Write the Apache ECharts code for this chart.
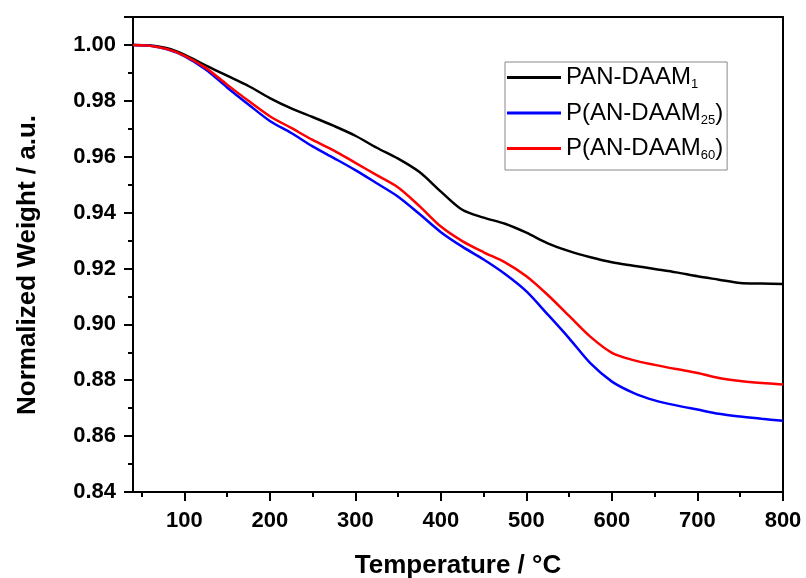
<!DOCTYPE html>
<html>
<head>
<meta charset="utf-8">
<script src="https://cdn.jsdelivr.net/npm/echarts@6/dist/echarts.min.js"></script>
<style>
  html, body { margin: 0; padding: 0; background: #fff; }
  #chart { width: 806px; height: 578px; }
</style>
</head>
<body>
<div id="chart"></div>
<script>
// temperature (°C)
const temps = [40, 60, 80, 100, 125, 150, 175, 200, 225, 250, 275, 300, 325, 350, 375, 400,
  425, 450, 475, 500, 525, 550, 575, 600, 625, 650, 675, 700, 725, 750, 775, 800];
// normalized weight
const pan1 = [1.000, 0.9998, 0.9988, 0.9965, 0.9927, 0.9890, 0.9853, 0.9810, 0.9773, 0.9742,
  0.9710, 0.9675, 0.9632, 0.9593, 0.9545, 0.9475, 0.9410, 0.9382, 0.9360, 0.9328, 0.9290,
  0.9262, 0.9240, 0.9222, 0.9210, 0.9198, 0.9186, 0.9172, 0.9160, 0.9148, 0.9146, 0.9144];
const pan25 = [1.000, 0.9997, 0.9984, 0.9960, 0.9912, 0.9848, 0.9787, 0.9728, 0.9685, 0.9637,
  0.9595, 0.9552, 0.9505, 0.9457, 0.9395, 0.9330, 0.9278, 0.9232, 0.9180, 0.9118, 0.9035,
  0.8950, 0.8860, 0.8795, 0.8755, 0.8728, 0.8710, 0.8695, 0.8680, 0.8670, 0.8662, 0.8655];
const pan60 = [1.000, 0.9997, 0.9985, 0.9962, 0.9918, 0.9858, 0.9800, 0.9745, 0.9703, 0.9660,
  0.9622, 0.9578, 0.9534, 0.9490, 0.9423, 0.9350, 0.9298, 0.9258, 0.9222, 0.9172, 0.9105,
  0.9030, 0.8955, 0.8898, 0.8872, 0.8855, 0.8840, 0.8826, 0.8808, 0.8797, 0.8790, 0.8785];

const xMajor = [100, 200, 300, 400, 500, 600, 700, 800];
const xMinor = [50, 150, 250, 350, 450, 550, 650, 750];

const names = ['PAN-DAAM1', 'P(AN-DAAM25)', 'P(AN-DAAM60)'];
const legendRich = {
  'PAN-DAAM1': '{n|PAN-DAAM}{s|1}',
  'P(AN-DAAM25)': '{n|P(AN-DAAM}{s|25}{n|)}',
  'P(AN-DAAM60)': '{n|P(AN-DAAM}{s|60}{n|)}'
};

const font = '"Liberation Sans", Arial, sans-serif';
const pair = (ys) => temps.map((t, i) => [t, ys[i]]);

const chart = echarts.init(document.getElementById('chart'));
chart.setOption({
  animation: false,
  grid: { left: 133, right: 23, top: 17, bottom: 86 },
  legend: {
    orient: 'vertical',
    left: 505,
    top: 62,
    padding: [2, 4, 8, 2],
    itemGap: 8.5,
    itemWidth: 54,
    itemHeight: 3,
    icon: 'rect',
    borderColor: '#888',
    borderWidth: 1,
    data: names,
    formatter: (n) => legendRich[n],
    textStyle: {
      fontFamily: font,
      rich: {
        n: { fontSize: 24, fontFamily: font, color: '#000', lineHeight: 28 },
        s: { fontSize: 13, fontFamily: font, color: '#000', padding: [14, 0, 0, 0], lineHeight: 28 }
      }
    }
  },
  xAxis: [{
    type: 'value', min: 40, max: 800,
    axisLine: { lineStyle: { color: '#000', width: 2 } },
    axisTick: { show: true, customValues: xMajor, length: 9, lineStyle: { color: '#000', width: 2 } },
    axisLabel: { customValues: xMajor, color: '#000', fontSize: 22, fontWeight: 'bold', fontFamily: font, margin: 18 },
    splitLine: { show: false }
  }, {
    type: 'value', min: 40, max: 800, position: 'bottom', gridIndex: 0,
    axisLine: { show: false },
    axisTick: { show: true, customValues: xMinor, length: 5, lineStyle: { color: '#000', width: 2 } },
    axisLabel: { show: false },
    splitLine: { show: false }
  }, {
    type: 'value', min: 40, max: 800, position: 'top',
    axisLine: { show: true, onZero: false, lineStyle: { color: '#000', width: 2 } },
    axisTick: { show: false }, axisLabel: { show: false }, splitLine: { show: false }
  }],
  yAxis: [{
    type: 'value', min: 0.84, max: 1.01, interval: 0.02,
    axisLine: { show: true, lineStyle: { color: '#000', width: 2 } },
    axisTick: { show: true, length: 9, lineStyle: { color: '#000', width: 2 } },
    minorTick: { show: true, splitNumber: 2, length: 5, lineStyle: { color: '#000', width: 2 } },
    axisLabel: {
      color: '#000', fontSize: 22, fontWeight: 'bold', fontFamily: font, margin: 17,
      formatter: (v) => (v > 1.005 ? '' : v.toFixed(2))
    },
    splitLine: { show: false }
  }, {
    type: 'value', min: 0.84, max: 1.01, position: 'right',
    axisLine: { show: true, onZero: false, lineStyle: { color: '#000', width: 2 } },
    axisTick: { show: false }, axisLabel: { show: false }, splitLine: { show: false }
  }],
  graphic: [{
    type: 'text', x: 458, y: 566,
    style: { text: 'Temperature / °C', font: 'bold 26px ' + font, fill: '#000', textAlign: 'center', textVerticalAlign: 'middle' }
  }, {
    type: 'text', rotation: Math.PI / 2, x: 28, y: 265,
    style: { text: 'Normalized Weight / a.u.', font: 'bold 26px ' + font, fill: '#000', textAlign: 'center', textVerticalAlign: 'middle' }
  }],
  series: [
    { name: names[0], type: 'line', data: pair(pan1), smooth: 0.3, showSymbol: false, lineStyle: { color: '#000', width: 2.5 }, itemStyle: { color: '#000' } },
    { name: names[1], type: 'line', data: pair(pan25), smooth: 0.3, showSymbol: false, lineStyle: { color: '#0000ff', width: 2.5 }, itemStyle: { color: '#0000ff' } },
    { name: names[2], type: 'line', data: pair(pan60), smooth: 0.3, showSymbol: false, lineStyle: { color: '#ff0000', width: 2.5 }, itemStyle: { color: '#ff0000' } }
  ]
});
</script>
</body>
</html>
